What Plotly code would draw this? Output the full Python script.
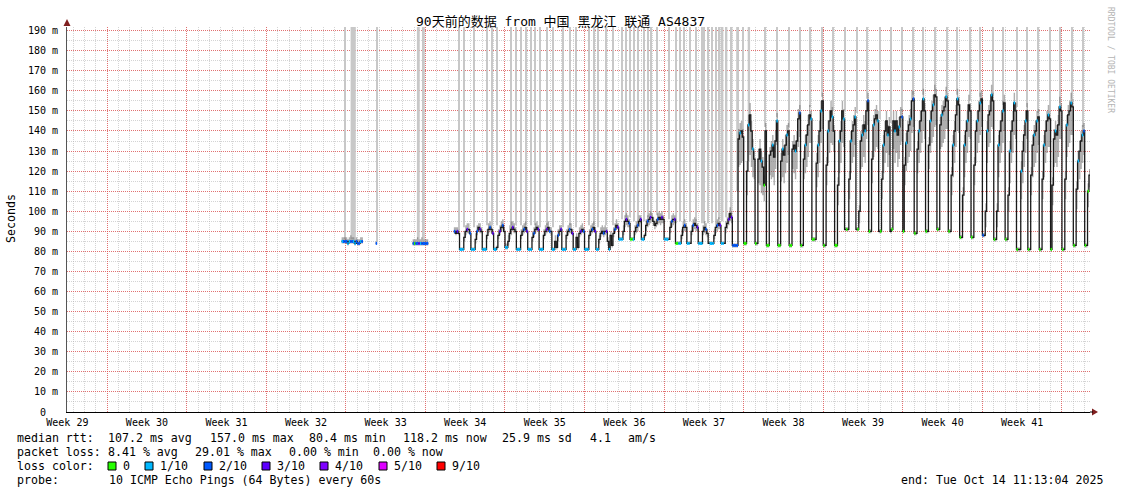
import pandas as pd
import plotly.graph_objects as go

# time window of the graph (90 days)
START = "2025-07-16 11:13:04"
END = "2025-10-14 11:13:04"
TOP = 191.8

FIRST_DAY = "2025-08-09"
SLOTS = [0, 3, 6, 9, 12, 15, 18, 21]          # 3-hour bins per day
N = None

# median rtt (ms) per 3h bin, one row per day from Aug 9 to Oct 14
median_rtt = [
    [N, N, N, N, N, 85, 85, 85],                  # Aug 09
    [85, 84, 85, 85, 85, 85, 84, 85],             # Aug 10
    [84, 84, 85, 85, N, N, N, N],                 # Aug 11
    [N, N, N, N, N, 84, N, N],                    # Aug 12
    [N, N, N, N, N, N, N, N],                     # Aug 13
    [N, N, N, N, N, N, N, N],                     # Aug 14
    [N, N, N, N, N, N, N, 84],                    # Aug 15
    [84, 84, 84, 84, 84, 84, 84, 84],             # Aug 16
    [84, 84, N, N, N, N, N, N],                   # Aug 17
    [N, N, N, N, N, N, N, N],                     # Aug 18
    [N, N, N, N, 90, 89, 90, 89],                 # Aug 19
    [81, 81, 81, 87, 90, 91, 91, 89],             # Aug 20
    [81, 81, 81, 86, 90, 92, 91, 90],             # Aug 21
    [81, 81, 81, 88, 91, 92, 91, 89],             # Aug 22
    [81, 81, 82, 88, 90, 92, 93, 90],             # Aug 23
    [82, 82, 85, 89, 91, 92, 91, 90],             # Aug 24
    [81, 81, 81, 88, 90, 91, 92, 90],             # Aug 25
    [81, 81, 81, 87, 89, 91, 92, 91],             # Aug 26
    [81, 81, 81, 88, 90, 91, 92, 90],             # Aug 27
    [90, 81, 81, 85, 82, 88, 90, 91],             # Aug 28
    [81, 81, 81, 88, 90, 91, 91, 89],             # Aug 29
    [81, 81, 87, 82, 89, 90, 91, 90],             # Aug 30
    [81, 81, 81, 88, 90, 91, 92, 90],             # Aug 31
    [81, 81, 86, 89, 90, 89, 90, 90],             # Sep 01
    [85, 81, 88, 83, 89, 91, 93, 92],             # Sep 02
    [86, 86, 86, 90, 95, 96, 95, 94],             # Sep 03
    [86, 86, 86, 90, 92, 93, 95, 96],             # Sep 04
    [86, 86, 88, 93, 95, 96, 97, 97],             # Sep 05
    [95, 93, 94, 96, 97, 96, 97, 96],             # Sep 06
    [86, 86, 86, 86, 92, 95, 96, 96],             # Sep 07
    [84, 84, 84, 84, 88, 92, 93, 92],             # Sep 08
    [84, 84, 84, 90, 93, 94, 93, 92],             # Sep 09
    [84, 84, 84, 90, 92, 91, 89, 84],             # Sep 10
    [84, 84, 84, 88, 92, 93, 94, 93],             # Sep 11
    [84, 84, 84, 92, 94, 96, 99, 97],             # Sep 12
    [83, 83, 83, 83, 136, 139, 140, 137],         # Sep 13
    [84, 84, 120, 143, 148, 140, 131, 126],       # Sep 14
    [84, 84, 126, 131, 125, 122, 113, 140],       # Sep 15
    [83, 83, 128, 130, 133, 127, 135, 145],       # Sep 16
    [83, 83, 125, 131, 128, 133, 138, 140],       # Sep 17
    [83, 83, 131, 133, 130, 135, 146, 149],       # Sep 18
    [83, 83, 126, 133, 138, 143, 148, 146],       # Sep 19
    [86, 86, 86, 124, 133, 140, 150, 155],        # Sep 20
    [83, 83, 123, 140, 145, 150, 147, 140],       # Sep 21
    [83, 83, 113, 135, 140, 150, 146, 91],        # Sep 22
    [91, 91, 116, 135, 140, 143, 147, 91],        # Sep 23
    [91, 100, 135, 138, 143, 140, 150, 155],      # Sep 24
    [90, 90, 126, 143, 146, 148, 145, 90],        # Sep 25
    [90, 116, 133, 140, 145, 138, 142, 90],       # Sep 26
    [91, 145, 140, 145, 138, 142, 147, 147],      # Sep 27
    [90, 123, 134, 140, 143, 146, 155, 156],      # Sep 28
    [89, 89, 131, 140, 145, 150, 156, 150],       # Sep 29
    [90, 90, 133, 145, 150, 153, 158, 157],       # Sep 30
    [91, 91, 143, 148, 150, 152, 157, 155],       # Oct 01
    [90, 90, 118, 133, 140, 148, 156, 153],       # Oct 02
    [87, 87, 108, 133, 140, 145, 153, 150],       # Oct 03
    [87, 87, 123, 140, 145, 150, 154, 156],       # Oct 04
    [88, 88, 100, 140, 148, 150, 158, 155],       # Oct 05
    [86, 86, 100, 133, 140, 145, 150, 154],       # Oct 06
    [86, 86, 108, 130, 140, 145, 154, 150],       # Oct 07
    [81, 81, 81, 120, 130, 138, 145, 150],        # Oct 08
    [81, 81, 118, 133, 138, 140, 145, 147],       # Oct 09
    [81, 81, 116, 133, 140, 145, 148, 146],       # Oct 10
    [81, 113, 136, 140, 138, 143, 152, 150],      # Oct 11
    [81, 81, 116, 143, 148, 150, 154, 152],       # Oct 12
    [83, 83, 111, 125, 130, 135, 138, 140],       # Oct 13
    [83, 83, 110, 118, N, N, N, N],               # Oct 14
]

# smoke (ping spread) above / below the median, ms
smoke_up = [
    [0, 0, 0, 0, 0, 2, 2, 2], [2, 2, 2, 3, 2, 2, 2, 2], [2, 2, 2, 2, 0, 0, 0, 0],
    [0, 0, 0, 0, 0, 1, 0, 0], [0] * 8, [0] * 8, [0, 0, 0, 0, 0, 0, 0, 2],
    [2, 2, 3, 2, 2, 3, 2, 2], [2, 2, 0, 0, 0, 0, 0, 0], [0] * 8,
    [0, 0, 0, 0, 2, 3, 2, 2],                                         # Aug 19
    [1, 1, 1, 3, 3, 3, 3, 2], [1, 1, 1, 3, 3, 2, 3, 2], [1, 1, 1, 3, 3, 3, 2, 2],
    [1, 1, 1, 3, 3, 3, 3, 2], [2, 2, 3, 4, 4, 3, 3, 2], [1, 1, 1, 3, 3, 3, 3, 2],
    [1, 1, 1, 3, 3, 3, 3, 2], [1, 1, 1, 3, 3, 3, 3, 2], [2, 1, 1, 3, 2, 3, 3, 2],
    [1, 1, 1, 3, 3, 3, 3, 2], [1, 1, 2, 2, 3, 3, 3, 2], [1, 1, 1, 3, 3, 3, 3, 2],
    [1, 1, 2, 3, 3, 3, 3, 2], [2, 1, 2, 2, 3, 3, 3, 2],               # Sep 02
    [1, 1, 1, 3, 3, 3, 3, 2], [1, 1, 1, 3, 3, 3, 3, 2], [1, 1, 1, 3, 3, 3, 3, 2],
    [2, 2, 2, 3, 3, 3, 3, 2], [1, 1, 1, 1, 3, 3, 3, 2], [1, 1, 1, 1, 3, 3, 3, 2],
    [1, 1, 1, 3, 3, 3, 3, 2], [1, 1, 1, 3, 3, 3, 2, 1], [1, 1, 1, 3, 3, 3, 3, 2],
    [1, 1, 1, 3, 3, 3, 3, 3],                                         # Sep 12
    [1, 1, 1, 1, 5, 5, 5, 4], [1, 1, 5, 5, 6, 5, 5, 4], [1, 1, 5, 5, 5, 5, 5, 4],
    [1, 1, 4, 5, 5, 5, 5, 4], [1, 1, 4, 5, 5, 5, 5, 4], [1, 1, 4, 5, 5, 5, 5, 4],
    [1, 1, 4, 5, 5, 5, 5, 4], [1, 1, 1, 5, 5, 5, 5, 4], [1, 1, 4, 5, 5, 5, 5, 3],
    [1, 1, 4, 5, 5, 5, 5, 1], [1, 1, 4, 5, 5, 5, 5, 1], [1, 3, 5, 5, 5, 5, 5, 4],
    [1, 1, 4, 5, 5, 5, 5, 1], [1, 4, 5, 5, 5, 5, 5, 1], [1, 5, 5, 5, 5, 5, 5, 4],
    [1, 4, 5, 5, 5, 5, 5, 4], [1, 1, 4, 5, 5, 5, 5, 4], [1, 1, 4, 5, 5, 5, 5, 4],
    [1, 1, 4, 5, 5, 5, 5, 4], [1, 1, 4, 5, 5, 5, 5, 4], [1, 1, 4, 5, 5, 5, 5, 4],
    [1, 1, 4, 5, 5, 5, 5, 4], [1, 1, 4, 5, 5, 5, 5, 4], [1, 1, 4, 5, 5, 5, 5, 4],
    [1, 1, 4, 5, 5, 5, 5, 4], [1, 1, 1, 5, 5, 5, 5, 4], [1, 1, 4, 5, 5, 5, 5, 4],
    [1, 1, 4, 5, 5, 5, 5, 4], [1, 4, 5, 5, 5, 5, 5, 4], [1, 1, 4, 5, 5, 5, 5, 4],
    [1, 1, 4, 5, 5, 5, 5, 4], [1, 1, 4, 3, 0, 0, 0, 0],               # Oct 14
]
smoke_down = [
    [0, 0, 0, 0, 0, 1, 1, 1], [1, 1, 1, 1, 1, 1, 1, 1], [1, 1, 1, 1, 0, 0, 0, 0],
    [0] * 8, [0] * 8, [0] * 8, [0, 0, 0, 0, 0, 0, 0, 1],
    [1, 1, 1, 1, 1, 1, 1, 1], [1, 1, 0, 0, 0, 0, 0, 0], [0] * 8,
    [0, 0, 0, 0, 1, 1, 1, 1],                                         # Aug 19
    [0, 0, 0, 2, 2, 2, 2, 1], [0, 0, 0, 2, 2, 2, 2, 1], [0, 0, 0, 2, 2, 2, 2, 1],
    [0, 0, 1, 2, 2, 2, 2, 1], [1, 1, 2, 3, 3, 2, 2, 1], [0, 0, 0, 2, 2, 2, 2, 1],
    [0, 0, 0, 2, 2, 2, 2, 1], [0, 0, 0, 2, 2, 2, 2, 1], [2, 0, 0, 3, 1, 3, 2, 1],
    [0, 0, 0, 2, 2, 2, 2, 1], [0, 0, 3, 1, 2, 2, 2, 1], [0, 0, 0, 2, 2, 2, 2, 1],
    [0, 0, 2, 2, 2, 2, 2, 1], [2, 0, 3, 1, 2, 2, 2, 1],               # Sep 02
    [0, 0, 0, 2, 3, 3, 3, 2], [0, 0, 0, 2, 3, 3, 3, 2], [0, 0, 1, 3, 3, 3, 3, 2],
    [2, 2, 2, 3, 3, 3, 3, 2], [0, 0, 0, 0, 3, 3, 3, 2], [0, 0, 0, 0, 2, 3, 3, 2],
    [0, 0, 0, 2, 3, 3, 3, 2], [0, 0, 0, 2, 3, 3, 2, 0], [0, 0, 0, 2, 3, 3, 3, 2],
    [0, 0, 0, 3, 3, 3, 4, 3],                                         # Sep 12
    [1, 1, 1, 1, 14, 16, 16, 12], [1, 1, 12, 18, 20, 18, 14, 10], [1, 1, 12, 18, 16, 14, 8, 12],
    [1, 1, 10, 14, 16, 14, 14, 12], [1, 1, 10, 14, 14, 14, 14, 12], [1, 1, 10, 14, 14, 14, 14, 12],
    [1, 1, 10, 14, 16, 16, 14, 12], [1, 1, 1, 12, 16, 16, 16, 14], [1, 1, 10, 16, 16, 16, 14, 10],
    [1, 1, 10, 16, 16, 16, 14, 1], [1, 1, 10, 16, 16, 16, 14, 1], [1, 6, 14, 16, 16, 16, 14, 12],
    [1, 1, 12, 16, 16, 16, 14, 1], [1, 10, 14, 16, 16, 16, 14, 1], [1, 14, 16, 16, 16, 16, 14, 12],
    [1, 10, 14, 16, 16, 16, 16, 14], [1, 1, 12, 16, 16, 16, 16, 14], [1, 1, 12, 16, 16, 16, 16, 14],
    [1, 1, 12, 16, 16, 16, 16, 14], [1, 1, 10, 16, 16, 16, 16, 14], [1, 1, 8, 16, 16, 16, 16, 14],
    [1, 1, 10, 16, 16, 16, 16, 14], [1, 1, 8, 16, 16, 16, 16, 14], [1, 1, 8, 16, 16, 16, 16, 14],
    [1, 1, 8, 16, 16, 16, 16, 14], [1, 1, 1, 14, 16, 16, 16, 14], [1, 1, 10, 16, 16, 16, 16, 14],
    [1, 1, 10, 16, 16, 16, 16, 14], [1, 10, 14, 16, 16, 16, 16, 14], [1, 1, 10, 16, 16, 16, 16, 14],
    [1, 1, 10, 14, 14, 14, 14, 12], [1, 1, 8, 6, 0, 0, 0, 0],         # Oct 14
]

# loss level drawn on the median for each bin ('.' = none)
loss_rows = [
    ".....122", "21122112", "2212....", ".....2..", "........", "........",
    ".......2", "02231222", "22......", "........", "....2.3.",
    "111..3.2", "111.2.3.", "111..2.3", "11..3.2.", "11...3..", "111..2.3",
    "111.2..3", "111..3.2", ".11..2.3", "111..2.3", "11...3.2", "111..2.3",
    "11...2.3", ".1...2.3",
    "111..3.2", "001..2.3", "11..2.3.", "...2..3.", "111..2.3", "0011..2.",
    "11..2..3", "111..2..", "111..2.3", "11...3.3",
    "2222.1..", "00.1..1.", "0...1.0.", "00..1..1", "00.1..1.", "00..1..2",
    "0..1...1", "00..1.1.", "0..1..1.", "00.1..1.", "0..1..1.", "0..1.1.2",
    "0..1..1.", "0.1..1..", "0.1..1.2", "0.1..1.2", "0..1..1.", "0..1.1..",
    "0..1..1.", "0..1..1.", "0..1.1..", "0...1.1.", "2..1..1.", "0..1..1.",
    "0..1..1.", "0..1..1.", "0...1.1.", "0..1..1.", "0..1..1.", "0..1..1.",
    "0..1..12", "0.0.....",
]
LOSS_COLORS = {"0": "#26ff00", "1": "#00b8ff", "2": "#0059ff", "3": "#5e00ff",
               "4": "#7e00ff", "5": "#dd00ff", "9": "#ff0000"}

# outlier pings running off the top of the graph: centre time, bottom (ms), width (h)
spike_time = [
    "2025-08-09 22:00", "2025-08-10 15:30", "2025-08-12 18:40", "2025-08-16 09:00",
    "2025-08-16 19:40", "2025-08-19 22:40", "2025-08-20 09:00", "2025-08-21 06:15",
    "2025-08-22 09:40", "2025-08-22 20:10", "2025-08-23 06:45", "2025-08-24 12:15",
    "2025-08-24 22:50", "2025-08-25 09:20", "2025-08-25 19:55", "2025-08-26 06:30",
    "2025-08-26 15:00", "2025-08-27 01:40", "2025-08-27 16:20", "2025-08-28 05:00",
    "2025-08-29 02:10", "2025-08-29 16:50", "2025-08-30 05:30", "2025-08-31 08:50",
    "2025-08-31 19:30", "2025-09-01 04:00", "2025-09-01 20:50", "2025-09-02 11:40",
    "2025-09-03 06:40", "2025-09-03 15:10", "2025-09-03 23:40", "2025-09-04 08:00",
    "2025-09-04 16:30", "2025-09-05 05:10", "2025-09-05 13:30", "2025-09-05 19:50",
    "2025-09-06 08:40", "2025-09-07 09:50", "2025-09-08 00:40", "2025-09-08 09:10",
    "2025-09-08 17:30", "2025-09-09 06:10", "2025-09-09 18:50", "2025-09-10 07:40",
    "2025-09-10 11:50", "2025-09-10 20:10", "2025-09-11 04:40", "2025-09-11 13:00",
    "2025-09-11 21:20", "2025-09-12 03:40", "2025-09-12 12:00", "2025-09-12 22:40",
    "2025-09-13 11:10", "2025-09-13 21:50", "2025-09-14 11:00", "2025-09-15 21:00",
    "2025-09-16 21:55", "2025-09-17 23:30", "2025-09-18 22:15", "2025-09-19 19:30",
    "2025-09-20 21:55", "2025-09-21 20:05", "2025-09-22 21:00", "2025-09-23 22:40",
    "2025-09-24 19:50", "2025-09-25 23:10", "2025-09-26 22:30", "2025-09-27 21:50",
    "2025-09-28 21:05", "2025-09-29 18:10", "2025-09-30 19:20", "2025-10-01 20:50",
    "2025-10-02 17:55", "2025-10-03 21:20", "2025-10-04 18:25", "2025-10-05 21:50",
    "2025-10-06 18:55", "2025-10-08 00:25", "2025-10-08 21:30", "2025-10-09 20:50",
    "2025-10-10 22:15", "2025-10-11 19:20", "2025-10-12 20:35", "2025-10-13 19:50",
]
spike_base = [
    86, 86, 85, 86, 86, 91, 92, 92, 93, 93, 93, 93, 93, 93, 93, 93, 93, 92, 93, 92,
    92, 93, 92, 93, 93, 92, 93, 93, 96, 97, 97, 95, 96, 95, 97, 98, 98, 96, 94, 95,
    95, 95, 95, 94, 94, 94, 94, 95, 96, 95, 97, 100, 110, 140, 140, 142,
    147, 142, 151, 152, 157, 150, 150, 149, 156, 146, 144, 150, 158, 158, 160, 159,
    158, 155, 157, 158, 153, 152, 152, 149, 150, 154, 156, 142,
]
spike_hours = [
    2, 11, 2, 6, 6, 2, 2, 2, 2, 2, 2, 2, 2, 2, 2, 2, 2, 2, 2, 2,
    2, 2, 2, 2, 2, 2, 2, 2, 3, 3, 3, 3, 3, 3, 3, 3, 3, 3, 3, 3,
    3, 3, 3, 3, 3, 3, 3, 3, 3, 3, 3, 3, 6, 2, 5, 2,
    2, 2, 2, 2, 2, 2, 2, 2, 2, 2, 2, 2, 2, 2, 2, 2,
    2, 2, 2, 2, 2, 2, 2, 2, 2, 2, 2, 2,
]

# axis labels
week_mid = ["2025-07-16 12:00", "2025-07-23 12:00", "2025-07-30 12:00", "2025-08-06 12:00",
            "2025-08-13 12:00", "2025-08-20 12:00", "2025-08-27 12:00", "2025-09-03 12:00",
            "2025-09-10 12:00", "2025-09-17 12:00", "2025-09-24 12:00", "2025-10-01 12:00",
            "2025-10-08 12:00"]
week_text = ["Week %d" % w for w in range(29, 42)]
week_start = ["2025-07-20", "2025-07-27", "2025-08-03", "2025-08-10", "2025-08-17",
              "2025-08-24", "2025-08-31", "2025-09-07", "2025-09-14", "2025-09-21",
              "2025-09-28", "2025-10-05", "2025-10-12"]
y_vals = [0, 10, 20, 30, 40, 50, 60, 70, 80, 90, 100, 110, 120, 130, 140, 150, 160, 170, 180, 190]
# "0" has no unit, so it sits where the numbers of the other labels end
y_text = ["0\u00a0\u00a0"] + ["%d m" % v for v in y_vals[1:]]

# ---------------------------------------------------------------- samples
STEP = pd.Timedelta(hours=3)
days = pd.date_range(FIRST_DAY, periods=len(median_rtt), freq="D")
t_s, med_s, lo_s, hi_s, loss_s = [], [], [], [], []
for d, mrow, urow, drow, lrow in zip(days, median_rtt, smoke_up, smoke_down, loss_rows):
    for h, m, u, dn, l in zip(SLOTS, mrow, urow, drow, lrow):
        t_s.append(d + pd.Timedelta(hours=h))
        med_s.append(m)
        lo_s.append(None if m is None else m - dn)
        hi_s.append(None if m is None else m + u)
        loss_s.append(l)

# contiguous runs of data
runs, cur = [], []
for i, m in enumerate(med_s):
    if m is None:
        if cur:
            runs.append(cur)
        cur = []
    else:
        cur.append(i)
if cur:
    runs.append(cur)

MONO = "DejaVu Sans Mono, Noto Sans CJK SC, monospace"
MAJOR = "rgba(230,80,80,0.75)"
MINOR = "rgba(170,170,170,0.5)"

fig = go.Figure()

fig.add_trace(go.Bar(
    x=pd.to_datetime(spike_time), base=spike_base,
    y=[TOP - b for b in spike_base],
    width=[h * 3600 * 1000 for h in spike_hours],
    marker=dict(color="#c8c8c8", line=dict(width=0)),
    hoverinfo="skip",
))

for run in runs:
    xs = [t_s[i] for i in run] + [t_s[run[-1]] + STEP]
    lo = [lo_s[i] for i in run] + [lo_s[run[-1]]]
    hi = [hi_s[i] for i in run] + [hi_s[run[-1]]]
    fig.add_trace(go.Scatter(x=xs, y=lo, mode="lines", line=dict(width=0, shape="hv"),
                             hoverinfo="skip"))
    fig.add_trace(go.Scatter(x=xs, y=hi, mode="lines", line=dict(width=0, shape="hv"),
                             fill="tonexty", fillcolor="rgba(110,110,110,0.55)",
                             hoverinfo="skip"))

for run in runs:
    xs = [t_s[i] for i in run] + [t_s[run[-1]] + STEP]
    ys = [med_s[i] for i in run] + [med_s[run[-1]]]
    fig.add_trace(go.Scatter(x=xs, y=ys, mode="lines",
                             line=dict(color="#1a1a1a", width=1.3, shape="hv"),
                             hoverinfo="skip"))

for lvl, col in LOSS_COLORS.items():
    xs, ys = [], []
    for t, m, l in zip(t_s, med_s, loss_s):
        if l == lvl and m is not None:
            xs += [t, t + STEP, None]
            ys += [m, m, None]
    if xs:
        fig.add_trace(go.Scatter(x=xs, y=ys, mode="lines",
                                 line=dict(color=col, width=3), hoverinfo="skip"))

# label axis (week names centred on each week)
fig.add_trace(go.Scatter(x=[week_mid[0]], y=[None], xaxis="x2", mode="markers",
                         hoverinfo="skip"))


def px_x(x):
    return (x - 67) / 1023


def px_y(y):
    return (412 - y) / 385


ann = []


def text(x, y, s, anchor="left", size=11.6, color="black", angle=0):
    ann.append(dict(x=px_x(x), y=px_y(y), xref="paper", yref="paper", text=s,
                    showarrow=False, xanchor=anchor, yanchor="middle", textangle=angle,
                    borderpad=0, font=dict(family=MONO, size=size, color=color)))


text(560.5, 21, "90天前的数据 from 中国 黑龙江 联通 AS4837", anchor="center", size=13)
text(11, 219, "Seconds", anchor="center", angle=-90)
text(1111, 60, "RRDTOOL / TOBI OETIKER", anchor="center", size=8, color="#b4b4b4", angle=90)

for x, s in [(16, "median rtt:"), (107, "107.2 ms avg"), (209, "157.0 ms max"),
             (308, "80.4 ms min"), (402, "118.2 ms now"), (501, "25.9 ms sd"),
             (589, "4.1"), (627, "am/s")]:
    text(x, 438, s)
for x, s in [(16, "packet loss:"), (107, "8.41 % avg"), (194, "29.01 % max"),
             (288, "0.00 % min"), (372, "0.00 % now")]:
    text(x, 452, s)
text(16, 466, "loss color:")
text(16, 480, "probe:")
text(108, 480, "10 ICMP Echo Pings (64 Bytes) every 60s")
text(1104, 480, "end: Tue Oct 14 11:13:04 2025", anchor="right")

shapes = []
legend_keys = [("0", 108), ("1/10", 145), ("2/10", 204), ("3/10", 262),
               ("4/10", 320), ("5/10", 379), ("9/10", 437)]
key_level = ["0", "1", "2", "3", "4", "5", "9"]
for (lab, x), lvl in zip(legend_keys, key_level):
    shapes.append(dict(type="rect", xref="paper", yref="paper",
                       xsizemode="pixel", ysizemode="pixel",
                       xanchor=px_x(x), yanchor=px_y(466),
                       x0=0, x1=8, y0=-4, y1=4,
                       fillcolor=LOSS_COLORS[lvl], line=dict(color="black", width=1)))
    text(x + 14, 466, lab)

# axis arrows
ARROW = "#7f1f1f"
shapes.append(dict(type="path", xref="paper", yref="paper", xsizemode="pixel",
                   ysizemode="pixel", xanchor=0, yanchor=1,
                   path="M -3.5,1 L 3.5,1 L 0,8 Z", fillcolor=ARROW, line=dict(width=0)))
shapes.append(dict(type="path", xref="paper", yref="paper", xsizemode="pixel",
                   ysizemode="pixel", xanchor=1, yanchor=0,
                   path="M 2,-3.5 L 2,3.5 L 8,0 Z", fillcolor=ARROW, line=dict(width=0)))
shapes.append(dict(type="line", xref="paper", yref="paper", xsizemode="pixel",
                   xanchor=1, x0=0, x1=3, y0=0, y1=0, line=dict(color="black", width=1)))

fig.update_layout(
    width=1121, height=494,
    margin=dict(l=67, r=31, t=27, b=82),
    paper_bgcolor="white", plot_bgcolor="white",
    showlegend=False, barmode="overlay",
    font=dict(family=MONO, size=10, color="black"),
    annotations=ann, shapes=shapes,
    xaxis=dict(
        type="date", range=[START, END],
        tickmode="array", tickvals=week_start, showticklabels=False, ticks="",
        showgrid=True, gridcolor=MAJOR, griddash="1px,1px", gridwidth=1,
        minor=dict(tickmode="linear", tick0="2025-07-17", dtick=86400000,
                   showgrid=True, gridcolor=MINOR, griddash="1px,1px", ticks=""),
        showline=True, linecolor="black", linewidth=1, zeroline=False,
    ),
    xaxis2=dict(
        type="date", matches="x", overlaying="x", anchor="y", side="bottom",
        tickmode="array", tickvals=week_mid, ticktext=week_text,
        showgrid=False, ticks="", ticklabelstandoff=3, showline=False,
        tickfont=dict(family=MONO, size=10, color="black"),
    ),
    yaxis=dict(
        range=[0, TOP], tickmode="array", tickvals=y_vals, ticktext=y_text,
        showgrid=True, gridcolor=MAJOR, griddash="1px,1px", gridwidth=1,
        minor=dict(dtick=5, tick0=0, showgrid=True, gridcolor=MINOR,
                   griddash="1px,1px", ticks=""),
        showline=True, linecolor="#555555", linewidth=1, zeroline=False,
        ticks="", ticklabelstandoff=6,
        tickfont=dict(family=MONO, size=10, color="black"),
    ),
)

# the page must not add its own border around the graph
fig.write_html("out.html", config={"displayModeBar": False},
               post_script="document.body.style.margin='0px';")
